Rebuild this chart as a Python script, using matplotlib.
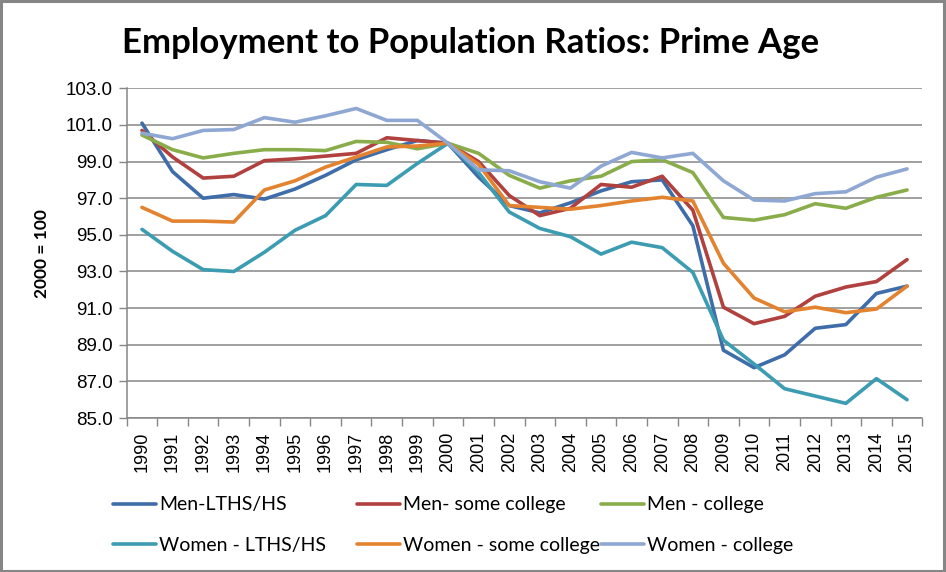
import matplotlib.pyplot as plt
from matplotlib.patches import Rectangle

# Data
years = list(range(1990, 2016))

men_lths = [101.1, 98.45, 97.0, 97.2, 96.95, 97.5, 98.25, 99.1, 99.65, 100.15,
            100.0, 98.15, 96.6, 96.2, 96.75, 97.4, 97.9, 98.0, 95.5,
            88.7, 87.75, 88.45, 89.9, 90.1, 91.8, 92.2]
men_some = [100.7, 99.25, 98.1, 98.2, 99.05, 99.15, 99.3, 99.45, 100.3, 100.15,
            100.0, 99.0, 97.15, 96.05, 96.45, 97.75, 97.6, 98.2, 96.35,
            91.05, 90.15, 90.55, 91.65, 92.15, 92.45, 93.65]
men_col = [100.45, 99.65, 99.2, 99.45, 99.65, 99.65, 99.6, 100.1, 100.05, 99.7,
           100.0, 99.45, 98.25, 97.55, 97.95, 98.2, 99.0, 99.1, 98.4,
           95.95, 95.8, 96.1, 96.7, 96.45, 97.05, 97.45]
women_lths = [95.3, 94.1, 93.1, 93.0, 94.05, 95.25, 96.05, 97.75, 97.7, 98.9,
              100.0, 98.4, 96.25, 95.35, 94.9, 93.95, 94.6, 94.3, 92.95,
              89.25, 87.95, 86.6, 86.2, 85.8, 87.15, 86.0]
women_some = [96.5, 95.75, 95.75, 95.7, 97.45, 97.95, 98.7, 99.25, 99.8, 99.85,
              100.0, 98.85, 96.6, 96.5, 96.4, 96.6, 96.85, 97.05, 96.85,
              93.45, 91.55, 90.8, 91.05, 90.75, 90.95, 92.2]
women_col = [100.55, 100.25, 100.7, 100.75, 101.4, 101.15, 101.5, 101.9, 101.25, 101.25,
             100.0, 98.55, 98.5, 97.9, 97.55, 98.75, 99.5, 99.2, 99.45,
             97.95, 96.9, 96.85, 97.25, 97.35, 98.15, 98.6]

labels = ["Men-LTHS/HS", "Men- some college", "Men - college",
          "Women - LTHS/HS", "Women - some college", "Women - college"]
series = [men_lths, men_some, men_col, women_lths, women_some, women_col]
colors = ["#3E6DA9", "#B0413E", "#8AAD4B", "#3B9CB2", "#E3832F", "#8FA8D3"]

# Plot setup
fig = plt.figure(figsize=(9.46, 5.72), dpi=100)
ax = fig.add_axes([0.1339, 0.2692, 0.8411, 0.5764])

handles = []
for lab, vals, c in zip(labels, series, colors):
    h, = ax.plot(years, vals, color=c, lw=2.6, label=lab, solid_capstyle='round')
    handles.append(h)

# Axes formatting
ax.set_xlim(1989.5, 2015.5)
ax.set_ylim(85, 103)
ax.set_yticks([85 + 2 * i for i in range(10)])
ax.set_yticklabels([f"{85 + 2 * i:.1f}" for i in range(10)])
ax.set_xticks(years)
ax.set_xticklabels([str(y) for y in years], rotation=90)
ax.set_xticks([y + 0.5 for y in [1989] + years], minor=True)
ax.tick_params(axis='x', which='major', length=0, pad=10, labelsize=13)
ax.tick_params(axis='x', which='minor', length=6, color='#868686', width=1)
ax.tick_params(axis='y', length=6, color='#868686', width=1, labelsize=13.5, pad=4)
for lbl in ax.get_xticklabels() + ax.get_yticklabels():
    lbl.set_family('Liberation Sans')

ax.grid(axis='y', color='#868686', lw=1.1)
ax.set_axisbelow(True)
for s in ['top', 'right']:
    ax.spines[s].set_visible(False)
for s in ['left', 'bottom']:
    ax.spines[s].set_color('#868686')
    ax.spines[s].set_linewidth(1.1)

fig.text(0.044, 0.557, '2000 = 100', rotation=90, ha='center', va='center',
         fontsize=12.5, fontweight='bold', family='Lato')

fig.text(0.497, 0.924, 'Employment to Population Ratios: Prime Age',
         ha='center', va='center', fontsize=25, fontweight='bold', family='Lato')

# Legend: three fixed-width columns, two rows each
col_x = [0.119, 0.377, 0.635]
for i, x0 in enumerate(col_x):
    fig.legend([handles[i], handles[i + 3]], [labels[i], labels[i + 3]],
               loc='upper left', bbox_to_anchor=(x0, 0.132), frameon=False,
               prop={'family': 'Lato', 'size': 14}, handlelength=2.25,
               handletextpad=0.15, labelspacing=1.2, borderpad=0,
               borderaxespad=0)

# Outer frame
fig.patches.append(Rectangle((0.001, 0.002), 0.997, 0.996, transform=fig.transFigure,
                             fill=False, edgecolor='#868686', lw=2.2))

plt.savefig('out.png', dpi=100)
